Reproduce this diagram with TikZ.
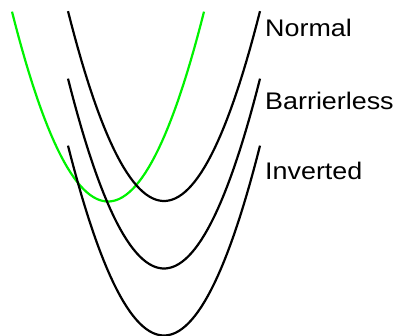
\documentclass[tikz,border=0pt]{standalone}
\usepackage{fontspec}
\setmainfont{Liberation Sans}
\usepackage{tikz}
\usetikzlibrary{positioning}
\definecolor{wellgreen}{rgb}{0,0.95,0}

\begin{document}
\begin{tikzpicture}[x=1pt,y=-1pt]
    \tikzset{
        well/.style={line width=2.2pt, domain=-96:96, samples=60},
        curvelabel/.style={anchor=base west, inner sep=0pt, xscale=1.12,
            font=\fontsize{24}{28}\selectfont}
    }
    \useasboundingbox (0,0) rectangle (395,336);
    % reactant well
    \draw[well, wellgreen] plot ({108+\x}, {201.5-0.0206*\x*\x});
    % product wells
    \foreach \vy/\ly/\name/\txt in {201/37/normal/Normal,
                                     268.5/109.5/barrierless/Barrierless,
                                     335.5/179.5/inverted/Inverted} {
        \draw[well, black] plot ({164+\x}, {\vy-0.0206*\x*\x});
        \node[curvelabel] (\name) at (265,\ly) {\txt};
    }
\end{tikzpicture}
\end{document}
